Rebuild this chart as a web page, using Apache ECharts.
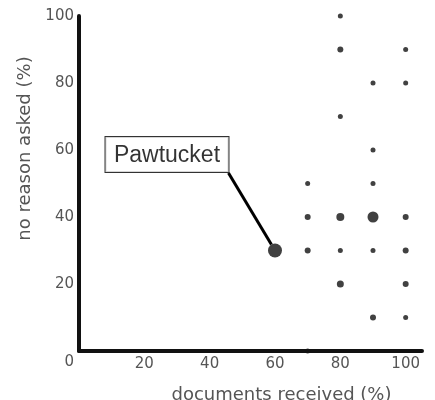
<!DOCTYPE html>
<html><head><meta charset="utf-8">
<script src="https://cdn.jsdelivr.net/npm/echarts@6/dist/echarts.min.js"></script>
<style>html,body{margin:0;padding:0;background:#fff}#c{width:435px;height:400px}</style>
</head><body><div id="c"></div>
<script>
// data
const docsReceived  = [60, 70, 70, 70, 70, 80, 80, 80, 80, 80, 80, 90, 90, 90, 90, 90, 90, 100, 100, 100, 100, 100, 100];
const noReasonAsked = [30,  0, 30, 40, 50,100, 90, 70, 40, 30, 20, 80, 60, 50, 40, 30, 10,  90,  80,  40,  30,  20,  10];
const pointWeight   = [14,  5,  6,  6,  5,  5,  6,  5,  8,  5,  7,  5,  5,  5, 11,  5,  6,   5,   5,   6,   6,   6,   5];
const pointNames    = ['Pawtucket','','','','','','','','','','','','','','','','','','','','','',''];
const tickValues    = [0, 20, 40, 60, 80, 100];

const seriesData = docsReceived.map((x, i) => {
  const d = { value: [x, noReasonAsked[i]], name: pointNames[i], symbolSize: pointWeight[i] };
  if (pointNames[i]) {
    d.label = {
      show: true, position: 'inside', formatter: '{box|{b}}{sp| }',
      rich: {
        box: {
          fontFamily: 'Liberation Sans, Arial, sans-serif', fontSize: 23, color: '#000',
          backgroundColor: '#fff', borderColor: '#000', borderWidth: 1,
          padding: [7, 8, 5, 8], lineHeight: 25, width: 107
        },
        sp: { width: 124, lineHeight: 25, fontSize: 10, padding: [7, 0, 5, 0] }
      }
    };
    d.labelLine = { show: true, lineStyle: { color: '#000', width: 3 } };
  }
  return d;
});

const labelFont = 'DejaVu Sans, Verdana, sans-serif';
const chart = echarts.init(document.getElementById('c'), null, { renderer: 'canvas' });
chart.setOption({
  animation: false,
  backgroundColor: '#fff',
  grid: { left: 79, right: 13, top: 16, bottom: 49, containLabel: false, outerBoundsMode: 'none' },
  xAxis: {
    type: 'value', min: 0, max: 105, interval: 20,
    name: 'documents received (%)', nameLocation: 'middle', nameGap: 35,
    nameTextStyle: { fontFamily: labelFont, fontSize: 18, color: '#555', padding: [0, 0, 0, 62] },
    axisLine: { show: true, lineStyle: { color: '#111', width: 4 } },
    axisTick: { show: false }, splitLine: { show: false },
    axisLabel: {
      margin: 6, fontFamily: labelFont, fontSize: 15, color: '#555',
      formatter: v => (tickValues.includes(v) && v !== 0) ? String(v) : ''
    }
  },
  yAxis: {
    type: 'value', min: 0, max: 100, interval: 20,
    name: 'no reason asked (%)', nameLocation: 'middle', nameGap: 45,
    nameTextStyle: { fontFamily: labelFont, fontSize: 18, color: '#555', padding: [0, 0, 0, 70] },
    axisLine: { show: true, lineStyle: { color: '#111', width: 4 } },
    axisTick: { show: false }, splitLine: { show: false },
    axisLabel: {
      margin: 5, fontFamily: labelFont, fontSize: 15, color: '#555',
      formatter: v => v === 0 ? '{z|0}' : String(v),
      rich: { z: { fontFamily: labelFont, fontSize: 15, color: '#555', padding: [22, 0, 0, 0] } }
    }
  },
  series: [{
    type: 'scatter',
    symbol: 'circle',
    itemStyle: { color: '#111' },
    z: 5,
    data: seriesData,
    labelLayout: function (p) {
      if (!p.text) return {};
      return { dx: -46, dy: -96 };
    }
  }]
});
</script>
</body></html>
